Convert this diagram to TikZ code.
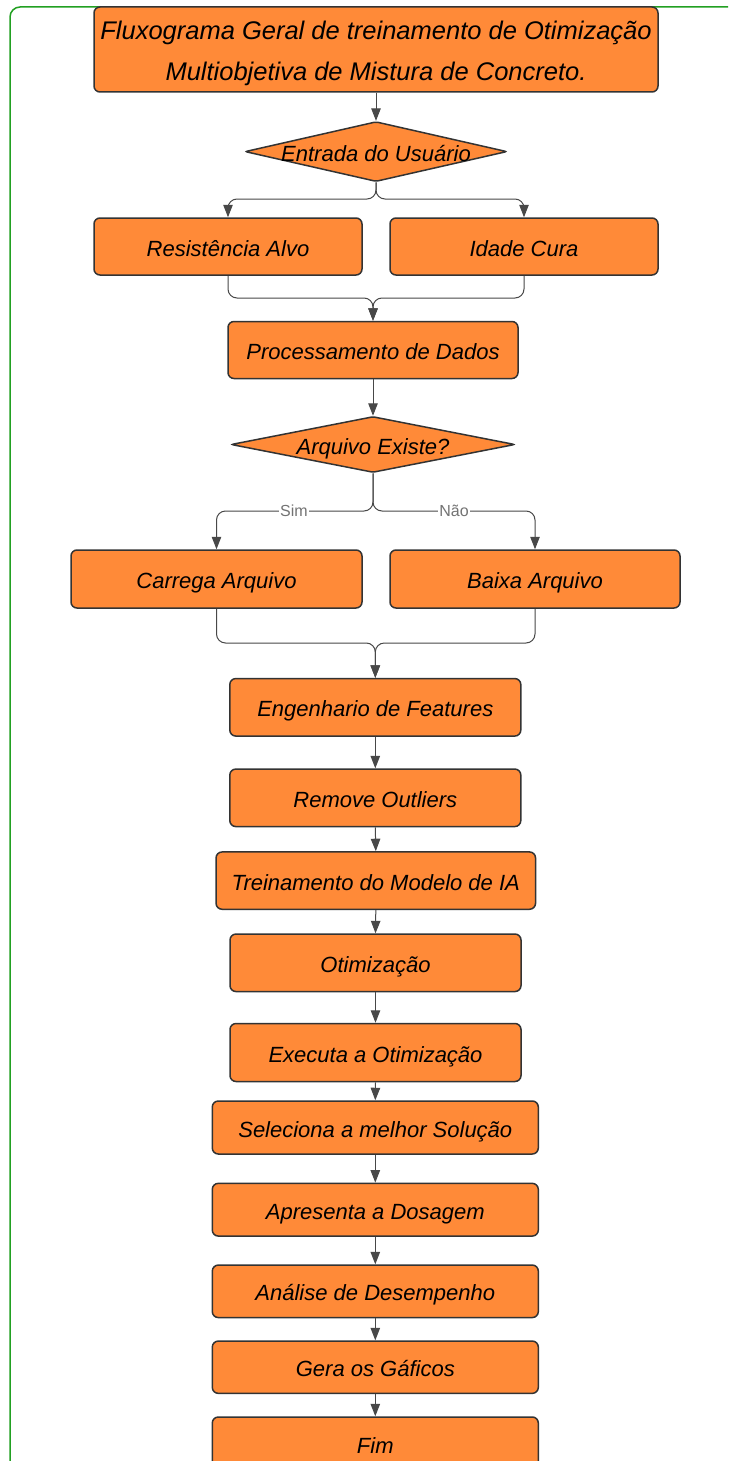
\documentclass[tikz,border=0pt]{standalone}
\usepackage{fontspec}
\setmainfont{Liberation Sans}
\usetikzlibrary{arrows.meta,shapes.geometric}
\definecolor{orng}{RGB}{255,138,56}
\definecolor{edgec}{RGB}{51,51,51}
\definecolor{connc}{RGB}{72,72,72}
\definecolor{framec}{RGB}{34,160,34}
\begin{document}
\begin{tikzpicture}[x=1pt,y=-1pt,
 box/.style={draw=edgec, fill=orng, line width=1.5pt, rounded corners=6pt,
   font=\fontsize{22}{26}\selectfont\itshape, inner sep=0pt, text=black,
   text height=22pt, text depth=3pt},
 dia/.style={draw=edgec, fill=orng, line width=1.5pt, diamond, inner sep=0pt, rounded corners=2pt},
 dtext/.style={font=\fontsize{22}{26}\selectfont\itshape, inner sep=0pt,
   text height=22pt, text depth=3pt},
 conn/.style={draw=connc, line width=1pt, -{Triangle[width=9.5pt,length=12.5pt]}},
 fork/.style={conn, rounded corners=9pt},
 lbl/.style={fill=white, text=black!55, font=\fontsize{16}{18}\selectfont, inner sep=1pt}]
\useasboundingbox (0,0) rectangle (728,1461);
\clip (0,0) rectangle (728,1461);
\fill[white] (0,0) rectangle (728,1461);
% frame
\draw[framec, line width=1.5pt, rounded corners=10pt] (10,1500) -- (10,7) -- (760,7);

% nodes
\node[box, minimum width=564pt, minimum height=85pt] (title) at (376,49.5) {};
\node[align=center, inner sep=0pt, font=\fontsize{25.5}{41}\selectfont\itshape, yshift=-4pt] (titlet) at (title)
  {Fluxograma Geral de treinamento de Otimização\\Multiobjetiva de Mistura de Concreto.};
\node[dia, minimum width=262pt, minimum height=60pt] (d1) at (376,151.6) {};
\node[dtext] (d1t) at (376,151.6) {Entrada do Usuário};
\node[box, minimum width=268pt, minimum height=57pt] (res) at (228,246.5) {Resistência Alvo};
\node[box, minimum width=268pt, minimum height=57pt] (ida) at (524,246.5) {Idade Cura};
\node[box, minimum width=290pt, minimum height=57pt] (proc) at (373,350) {Processamento de Dados};
\node[dia, minimum width=284pt, minimum height=56pt] (d2) at (373,444.5) {};
\node[dtext] (d2t) at (373,444.5) {Arquivo Existe?};
\node[box, minimum width=291pt, minimum height=58pt] (carr) at (216.5,579) {Carrega Arquivo};
\node[box, minimum width=290pt, minimum height=58pt] (baixa) at (535,579) {Baixa Arquivo};
\node[box, minimum width=291pt, minimum height=57.5pt] (eng) at (375.3,707.3) {Engenhario de Features};
\node[box, minimum width=291pt, minimum height=57.5pt] (rem) at (375.3,797.8) {Remove Outliers};
\node[box, minimum width=319.5pt, minimum height=57.3pt] (trein) at (375.8,880.6) {Treinamento do Modelo de IA};
\node[box, minimum width=291pt, minimum height=57.5pt] (otim) at (375.5,962.8) {Otimização};
\node[box, minimum width=291pt, minimum height=58pt] (exec) at (375.5,1052.5) {Executa a Otimização};
\node[box, minimum width=326pt, minimum height=53pt] (sel) at (375.3,1127.5) {Seleciona a melhor Solução};
\node[box, minimum width=326pt, minimum height=52.7pt] (apr) at (375.3,1209.7) {Apresenta a Dosagem};
\node[box, minimum width=326pt, minimum height=52.5pt] (anal) at (375.3,1291.3) {Análise de Desempenho};
\node[box, minimum width=326pt, minimum height=52.3pt] (gera) at (375.3,1367.2) {Gera os Gáficos};
\node[box, minimum width=326pt, minimum height=53pt] (fim) at (375.3,1443.5) {Fim};

% connectors
\draw[conn] (title.south) -- (d1.north);
\coordinate (f1) at (376,199);
\draw[fork] (d1.south) -- (f1) -| (res.north);
\draw[fork] (d1.south) -- (f1) -| (ida.north);
\coordinate (m1) at (373,298);
\draw[fork] (res.south) |- (m1) -- (proc.north);
\draw[fork] (ida.south) |- (m1) -- (proc.north);
\draw[conn] (proc.south) -- (d2.north);
\coordinate (f2) at (373,511);
\draw[fork] (d2.south) -- (f2) -| (carr.north);
\draw[fork] (d2.south) -- (f2) -| (baixa.north);
\node[lbl] (sim) at (294,511) {Sim};
\node[lbl] (nao) at (454,511) {Não};
\coordinate (m2) at (375.3,643);
\draw[fork] (carr.south) |- (m2) -- (eng.north);
\draw[fork] (baixa.south) |- (m2) -- (eng.north);
\draw[conn] (eng.south) -- (rem.north);
\draw[conn] (rem.south) -- (trein.north);
\draw[conn] (trein.south) -- (otim.north);
\draw[conn] (otim.south) -- (exec.north);
\draw[conn] (exec.south) -- (sel.north);
\draw[conn] (sel.south) -- (apr.north);
\draw[conn] (apr.south) -- (anal.north);
\draw[conn] (anal.south) -- (gera.north);
\draw[conn] (gera.south) -- (fim.north);
\end{tikzpicture}
\end{document}
